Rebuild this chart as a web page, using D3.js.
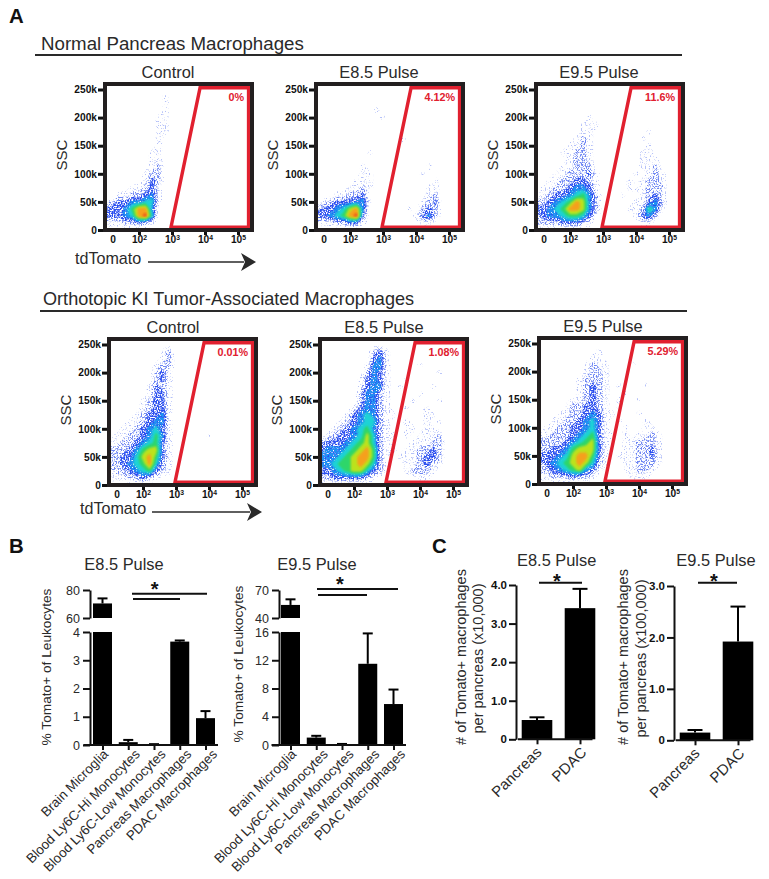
<!DOCTYPE html>
<html>
<head>
<meta charset="utf-8">
<title>Tomato+ macrophages</title>
<script src="https://cdn.jsdelivr.net/npm/d3@7"></script>
<style>
  html, body { margin: 0; background: #fff; }
  svg { display: block; font-family: "Liberation Sans", Arial, sans-serif; }
  .axis .domain { stroke: #111; stroke-width: 2; }
  .axis line { stroke: #111; stroke-width: 2; }
</style>
</head>
<body>
<svg id="fig" width="769" height="879" viewBox="0 0 769 879"></svg>
<script>
// density: rows run 250k down to 0 in 12.5k steps,
// columns run from just below 10^1 up to 10^5 in 0.2 decade steps (digit = colour level)
const normalControl = ["", "000000000100", "000000000100", "000000000100", "000000001100", "000000001100", "000000001100", "00000000100", "00000000100", "00000001100", "00000001100", "00000001200", "00000012200", "00000013200", "00001123100", "00112234100", "12334455100", "33346884000", "33345895000", "11122321000", ""];
const normalE85 = ["", "", "", "0000000001", "00000000001", "", "", "00000000000001", "", "00000000100", "", "000000010000000001", "00000001100000001", "0000001110000000001", "00000112100000000110", "00011223000000000120", "01233344100000001230", "23345784000000102320", "33456893000000013420", "11122331000000001100", ""];
const normalE95 = ["", "", "", "", "000000001", "000000011100", "0000000110000000010", "00000012100000001", "00000112100000000100", "00001122100000001100", "00000122100000001110", "00001122200000001120", "0001122231000001012100", "0011223321000010122100", "0112234431000011122200", "1123345642000100123100", "2234568742000001134200", "3345688742000011264100", "2344566531000001342000", "2222333210000000110000", ""];
const tumorControl = ["", "0000000012", "0000000012", "0000000122", "0000000231", "0000000231", "0000001321", "0000001331", "0000012331", "0000012331", "0000123341", "0001123441", "0011234531", "0112234641000001", "1122345631", "2223467731", "2233578631", "2234568521", "1223456321", "1112232100", ""];
const tumorE85 = ["", "000000002310", "00000000341", "0000000144100001", "00000002431000000010", "0000001343100100", "00000013441010000100", "000000244210000100", "00000024421000100010", "0000013442100100100", "000013454211000011", "0001234552100100101", "001234564210011011", "0123345752110101112", "2333456752100011122", "3444567862110112232", "4445678862101112332", "4456678752100112321", "3345677532100122210", "2233333210000001100", ""];
const tumorE95 = ["", "0000000001", "000000001100", "00000001211000100", "0000000122100000", "0000001222100100", "00000012321010001", "0000001232100100", "00000112321010010", "000012233210100", "000112234311000100", "001122345310100010", "01122334531001001100", "1122234563110101121", "2222345673100112221", "2233467773100112231", "3334578863101112231", "2345678752100112221", "2234567431000112210", "1122232210000011100", ""];

const flowTitles = ["Control", "E8.5 Pulse", "E9.5 Pulse", "Control", "E8.5 Pulse", "E9.5 Pulse"];
const gatePercents = ["0%", "4.12%", "11.6%", "0.01%", "1.08%", "5.29%"];
const flowGrids = [normalControl, normalE85, normalE95, tumorControl, tumorE85, tumorE95];
const sscTicks = [0, 50, 100, 150, 200, 250];
const tomatoTicks = [1.2, 2, 3, 4, 5];
const gatePoints = [[2.97, 5], [3.85, 253], [5.32, 253], [5.32, 5]];

const leukocyteTypes = ["Brain Microglia", "Blood Ly6C-Hi Monocytes", "Blood Ly6C-Low Monocytes", "Pancreas Macrophages", "PDAC Macrophages"];
const e85Percent = [70.4, 0.1, 0.02, 3.66, 0.95];
const e85PercentErr = [74, 0.18, 0.03, 3.7, 1.2];
const e95Percent = [54, 1.05, 0.1, 11.5, 5.8];
const e95PercentErr = [60, 1.3, 0.15, 15.8, 7.85];
const e85LowTicks = [0, 1, 2, 3, 4];
const e85HighTicks = [60, 80];
const e95LowTicks = [0, 4, 8, 12, 16];
const e95HighTicks = [40, 70];

const tissues = ["Pancreas", "PDAC"];
const e85Count = [0.5, 3.4];
const e85CountErr = [0.57, 3.9];
const e95Count = [0.15, 1.92];
const e95CountErr = [0.2, 2.6];
const e85CountTicks = [0, 1, 2, 3, 4];
const e95CountTicks = [0, 1, 2, 3];

const INK = "#2a2a2a";
const GATE_RED = "#e1202f";
const LEVEL_COLORS = ["#b4c0f8", "#6e86f3", "#2b4ff0", "#1f90f2", "#1fd3d6", "#2fd66a", "#bce21f", "#f6a01f", "#e8431c"];
const FLOW_ORIGINS = [[103, 82], [314, 82], [534, 82], [107, 337], [318, 337], [537, 336]];

const svg = d3.select("#fig");

function addText(parent, x, y, text, size, opts = {}) {
  return parent
    .append("text")
    .attr("x", x)
    .attr("y", y)
    .attr("font-size", size)
    .attr("font-weight", opts.weight || "normal")
    .attr("fill", opts.fill || INK)
    .attr("text-anchor", opts.anchor || "start")
    .text(text);
}

function addRotated(parent, x, y, text, size) {
  return parent
    .append("text")
    .attr("transform", `translate(${x},${y}) rotate(-90)`)
    .attr("text-anchor", "middle")
    .attr("font-size", size)
    .attr("fill", INK)
    .text(text);
}

// speckle filters, so that thin parts of a cloud look like single events
const defs = svg.append("defs");
[
  { id: "speck1", seed: 4, cut: 0.58 },
  { id: "speck2", seed: 9, cut: 0.5 },
  { id: "speck3", seed: 17, cut: 0.44 },
  { id: "speck4", seed: 23, cut: 0.38 },
].forEach((d) => {
  const f = defs
    .append("filter")
    .attr("id", d.id)
    .attr("filterUnits", "userSpaceOnUse")
    .attr("x", 0)
    .attr("y", 0)
    .attr("width", 769)
    .attr("height", 879)
    .attr("color-interpolation-filters", "sRGB");
  f.append("feTurbulence")
    .attr("type", "fractalNoise")
    .attr("baseFrequency", 0.75)
    .attr("numOctaves", 1)
    .attr("seed", d.seed)
    .attr("result", "noise");
  f.append("feColorMatrix")
    .attr("in", "noise")
    .attr("type", "matrix")
    .attr("values", `0 0 0 0 0 0 0 0 0 0 0 0 0 0 0 9 0 0 0 ${-9 * d.cut}`)
    .attr("result", "mask");
  f.append("feComposite").attr("in", "SourceGraphic").attr("in2", "mask").attr("operator", "in");
  f.append("feGaussianBlur").attr("stdDeviation", 0.35);
});
defs.append("filter").attr("id", "soft").append("feGaussianBlur").attr("stdDeviation", 0.9);

function drawFlowPlot(index) {
  const [left, top] = FLOW_ORIGINS[index];
  const g = svg.append("g");
  const x = d3.scaleLinear().domain([2, 5]).range([left + 36, left + 135]);
  const y = d3.scaleLinear().domain([0, 250]).range([top + 148, top + 7.5]);

  const clipId = `plot-clip-${index}`;
  defs
    .append("clipPath")
    .attr("id", clipId)
    .append("rect")
    .attr("x", left + 2)
    .attr("y", top + 2)
    .attr("width", 147)
    .attr("height", 146);

  // grid digits to contours, contour coordinates back to axis units
  const rows = flowGrids[index].map((r) => r.padEnd(22, "0"));
  const values = rows.flatMap((r) => Array.from(r, Number));
  const contours = d3.contours().size([22, 21]).thresholds(d3.range(0.5, 9, 1))(values);
  const path = d3.geoPath(
    d3.geoTransform({
      point(gx, gy) {
        this.stream.point(x(1 + (gx - 0.5) * 0.2), y(250 - (gy - 0.5) * 12.5));
      },
    })
  );

  const cloud = g.append("g").attr("clip-path", `url(#${clipId})`);
  contours.forEach((c, i) => {
    cloud
      .append("path")
      .attr("d", path(c))
      .attr("fill", LEVEL_COLORS[i])
      .attr("filter", i < 4 ? `url(#speck${i + 1})` : `url(#soft)`);
  });

  // gate
  g.append("path")
    .attr("d", d3.line().x((d) => x(d[0])).y((d) => y(d[1])).curve(d3.curveLinearClosed)(gatePoints))
    .attr("fill", "none")
    .attr("stroke", GATE_RED)
    .attr("stroke-width", 3.4);

  addText(g, left + 141, top + 18.5, gatePercents[index], 10.8, { weight: "bold", fill: GATE_RED, anchor: "end" });

  g.append("rect")
    .attr("x", left + 2)
    .attr("y", top + 2)
    .attr("width", 147)
    .attr("height", 146)
    .attr("fill", "none")
    .attr("stroke", "#231f20")
    .attr("stroke-width", 4);

  const yAxis = g
    .append("g")
    .attr("transform", `translate(${left},0)`)
    .call(d3.axisLeft(y).tickValues(sscTicks).tickSize(5).tickPadding(1).tickFormat((d) => (d ? `${d}k` : "0")));
  const xAxis = g
    .append("g")
    .attr("transform", `translate(0,${top + 150})`)
    .call(d3.axisBottom(x).tickValues(tomatoTicks).tickSize(3).tickPadding(1).tickFormat(""));

  [yAxis, xAxis].forEach((a) => {
    a.select(".domain").remove();
    a.selectAll("line").attr("stroke", "#111").attr("stroke-width", 3);
    a.selectAll("text").attr("font-size", 10.2).attr("font-weight", "bold").attr("fill", "#111").attr("font-family", null);
  });

  xAxis.selectAll(".tick").filter((d) => d < 2).select("line").remove();
  xAxis.selectAll(".tick text").each(function (d) {
    const label = d3.select(this);
    if (d < 2) {
      label.text("0");
      return;
    }
    label.append("tspan").text("10");
    label.append("tspan").attr("font-size", 6.8).attr("dy", -3.5).text(d);
  });

  addRotated(g, left - 36, top + 73, "SSC", 15);
  addText(g, left + (index > 2 ? 66 : 65), top - 4, flowTitles[index], 16.4, { anchor: "middle" });
}

function drawArrow(parent, x1, x2, y) {
  parent.append("line").attr("x1", x1).attr("x2", x2 - 12).attr("y1", y).attr("y2", y).attr("stroke", INK).attr("stroke-width", 1.6);
  parent
    .append("path")
    .attr("d", `M${x2 - 15},${y - 9}L${x2},${y}L${x2 - 15},${y + 9}L${x2 - 11},${y}Z`)
    .attr("fill", INK);
}

function drawBar(g, x, y, value, err, width, capWidth) {
  const top = y(err);
  g.append("line").attr("x1", x).attr("x2", x).attr("y1", y(value)).attr("y2", top).attr("stroke", "#000").attr("stroke-width", 2);
  g.append("line").attr("x1", x - capWidth / 2).attr("x2", x + capWidth / 2).attr("y1", top).attr("y2", top).attr("stroke", "#000").attr("stroke-width", 2);
  g.append("rect")
    .attr("x", x - width / 2)
    .attr("width", width)
    .attr("y", y(value))
    .attr("height", Math.max(0, y.range()[0] - y(value)))
    .attr("fill", "#000");
}

function drawCategoryAxis(g, x, y0, size, nudge, drop) {
  const axis = g
    .append("g")
    .attr("transform", `translate(0,${y0})`)
    .call(d3.axisBottom(x).tickSize(5).tickSizeOuter(0));
  axis.select(".domain").remove();
  axis.selectAll("line").attr("stroke", "#111").attr("stroke-width", 2);
  axis
    .selectAll("text")
    .attr("font-family", null)
    .attr("font-size", size)
    .attr("fill", INK)
    .attr("text-anchor", "end")
    .attr("dy", null)
    .attr("y", null)
    .attr("transform", (_, i) => `translate(${nudge[i]},${drop}) rotate(-45)`);
  g.append("line").attr("x1", x.range()[0] - 19).attr("x2", x.range()[1] + 12.5).attr("y1", y0).attr("y2", y0).attr("stroke", "#111").attr("stroke-width", 2);
}

function drawSignificance(g, star, lines) {
  g.append("text")
    .attr("x", star[0])
    .attr("y", star[1])
    .attr("text-anchor", "middle")
    .attr("font-size", 20)
    .attr("font-weight", "bold")
    .attr("fill", "#111")
    .text("*");
  lines.forEach((l) => {
    g.append("line").attr("x1", l[0]).attr("x2", l[1]).attr("y1", l[2]).attr("y2", l[2]).attr("stroke", "#111").attr("stroke-width", 2);
  });
}

function drawBrokenChart(cfg) {
  const g = svg.append("g");
  const x = d3.scalePoint().domain(leukocyteTypes).range(cfg.centers);
  const low = d3.scaleLinear().domain(d3.extent(cfg.lowTicks)).range([745, 632]);
  const high = d3.scaleLinear().domain(d3.extent(cfg.highTicks)).range([618, 590]);

  [[low, cfg.lowTicks], [high, cfg.highTicks]].forEach(([scale, ticks]) => {
    const axis = g
      .append("g")
      .attr("class", "axis")
      .attr("transform", `translate(${cfg.axisX},0)`)
      .call(d3.axisLeft(scale).tickValues(ticks).tickSize(7).tickSizeOuter(0).tickPadding(3).tickFormat(d3.format("d")));
    axis.selectAll("text").attr("font-size", 12.5).attr("fill", INK).attr("font-family", null);
  });

  leukocyteTypes.forEach((name, i) => {
    const v = cfg.values[i];
    const e = cfg.errors[i];
    if (v > low.domain()[1]) {
      drawBar(g, x(name), low, low.domain()[1], low.domain()[1], 19, 0);
      drawBar(g, x(name), high, v, e, 19, 10);
    } else {
      drawBar(g, x(name), low, v, e, 19, 10);
    }
  });

  drawCategoryAxis(g, x, 745, 13.4, [6, 12, 12, 12, 12], 10);
  addText(g, cfg.titleX, 570, cfg.title, 16.4, { anchor: "middle" });
  addRotated(g, cfg.labelX, cfg.labelY, "% Tomato+ of Leukocytes", 13.7);
  drawSignificance(g, cfg.star, cfg.lines);
}

function drawCountChart(cfg) {
  const g = svg.append("g");
  const x = d3.scalePoint().domain(tissues).range(cfg.centers);
  const y = d3.scaleLinear().domain(d3.extent(cfg.ticks)).range(cfg.yRange);

  const axis = g
    .append("g")
    .attr("class", "axis")
    .attr("transform", `translate(${cfg.axisX},0)`)
    .call(d3.axisLeft(y).tickValues(cfg.ticks).tickSize(7).tickSizeOuter(0).tickPadding(2).tickFormat((d) => (d ? d.toFixed(1) : "0")));
  axis.selectAll("text").attr("font-size", 11.5).attr("font-weight", "bold").attr("fill", "#111").attr("font-family", null);

  tissues.forEach((name, i) => {
    drawBar(g, x(name), y, cfg.values[i], cfg.errors[i], 30.6, 15);
  });

  drawCategoryAxis(g, x, cfg.yRange[0], 15, [5, 7], 14);
  addText(g, cfg.titleX, 565.7, cfg.title, 16.4, { anchor: "middle" });
  addRotated(g, cfg.labelX, 657, "# of Tomato+ macrophages", 14.5);
  addRotated(g, cfg.labelX + 17.5, 658.5, cfg.unitLabel, 14.5);
  drawSignificance(g, cfg.star, cfg.lines);
}

// panel A
addText(svg, 9, 23, "A", 20.4, { weight: "bold", fill: "#111" });
addText(svg, 41, 50, "Normal Pancreas Macrophages", 18.7);
svg.append("line").attr("x1", 35).attr("x2", 682).attr("y1", 55).attr("y2", 55).attr("stroke", INK).attr("stroke-width", 1.8);
addText(svg, 43, 305, "Orthotopic KI Tumor-Associated Macrophages", 18.1);
svg.append("line").attr("x1", 40).attr("x2", 687).attr("y1", 311).attr("y2", 311).attr("stroke", INK).attr("stroke-width", 1.8);

FLOW_ORIGINS.forEach((_, i) => drawFlowPlot(i));

addText(svg, 75, 264, "tdTomato", 16.1);
drawArrow(svg, 148, 256, 262);
addText(svg, 80, 514, "tdTomato", 16.1);
drawArrow(svg, 152, 262, 512);

// panel B
addText(svg, 9, 553, "B", 20.4, { weight: "bold", fill: "#111" });
drawBrokenChart({
  title: "E8.5 Pulse",
  titleX: 124,
  axisX: 90,
  centers: [102.5, 205.5],
  lowTicks: e85LowTicks,
  highTicks: e85HighTicks,
  values: e85Percent,
  errors: e85PercentErr,
  labelX: 51,
  labelY: 667,
  star: [154.7, 596],
  lines: [[132, 207, 593.7], [133, 180, 599]],
});
drawBrokenChart({
  title: "E9.5 Pulse",
  titleX: 317,
  axisX: 279,
  centers: [290.5, 393.5],
  lowTicks: e95LowTicks,
  highTicks: e95HighTicks,
  values: e95Percent,
  errors: e95PercentErr,
  labelX: 243,
  labelY: 664,
  star: [340, 591],
  lines: [[317, 398, 589], [318, 367, 595]],
});

// panel C
addText(svg, 432, 553, "C", 20.4, { weight: "bold", fill: "#111" });
drawCountChart({
  title: "E8.5 Pulse",
  titleX: 556.7,
  axisX: 516,
  centers: [537, 580],
  ticks: e85CountTicks,
  yRange: [739.3, 585],
  values: e85Count,
  errors: e85CountErr,
  labelX: 465.5,
  unitLabel: "per pancreas (x10,000)",
  star: [557, 588],
  lines: [[539, 582, 582.7]],
});
drawCountChart({
  title: "E9.5 Pulse",
  titleX: 716,
  axisX: 674,
  centers: [695, 738],
  ticks: e95CountTicks,
  yRange: [740.3, 586],
  values: e95Count,
  errors: e95CountErr,
  labelX: 628,
  unitLabel: "per pancreas (x100,000)",
  star: [714, 588],
  lines: [[698, 737, 582.7]],
});
</script>
</body>
</html>
